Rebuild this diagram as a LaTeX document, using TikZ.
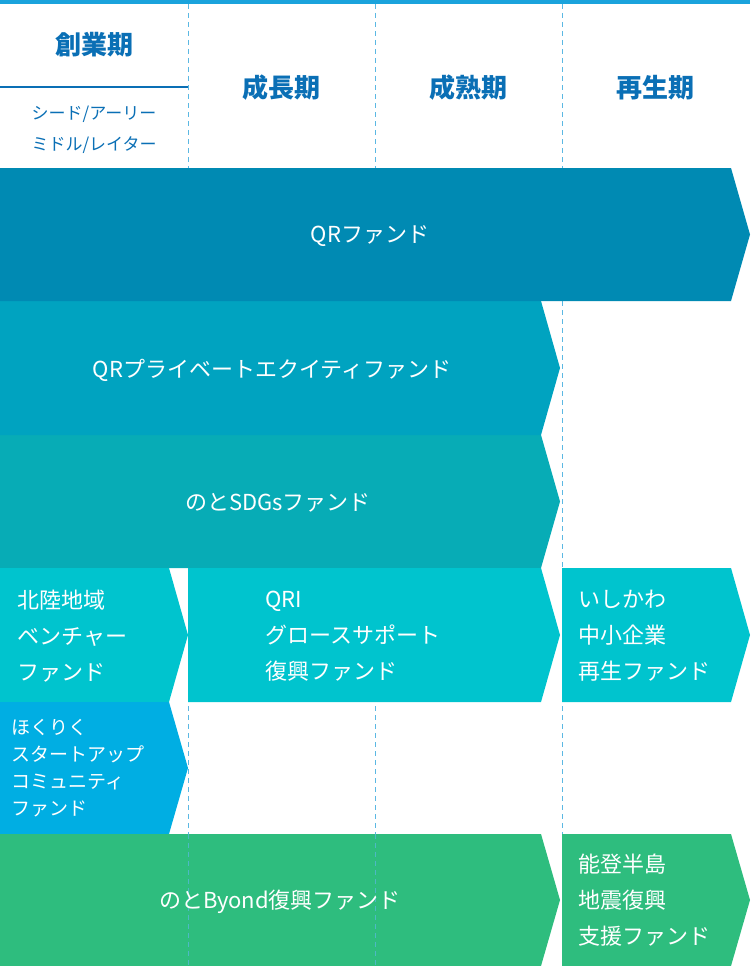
\documentclass[tikz,border=0pt]{standalone}
\usepackage{fontspec}
\setmainfont{Noto Sans CJK JP}
\begin{document}
\begin{tikzpicture}[x=1pt,y=-1pt,
  hd/.style={text=hdblue,font=\bfseries\fontsize{26}{30}\selectfont},
  sub/.style={text=hdblue,font=\fontsize{17}{31}\selectfont,align=center},
  lbl/.style={text=white,font=\fontsize{22}{36}\selectfont,align=left},
  sml/.style={text=white,font=\fontsize{19}{27}\selectfont,align=left},
  grid/.style={dashed,dash pattern=on 5pt off 4pt,draw=gridblue,line width=0.8pt}]
\definecolor{hdblue}{HTML}{0A6FB5}
\definecolor{topblue}{HTML}{1AA3DC}
\definecolor{gridblue}{HTML}{5BB8E3}
\definecolor{cA}{HTML}{008AB3}
\definecolor{cB}{HTML}{00A3C0}
\definecolor{cC}{HTML}{07ACB6}
\definecolor{cD}{HTML}{00C4CE}
\definecolor{cE}{HTML}{00AEE3}
\definecolor{cF}{HTML}{2EBD7E}
\useasboundingbox (0,0) rectangle (750,966);
\fill[topblue] (0,0) rectangle (750,4);
\foreach \x in {188,375,562} \draw[grid] (\x,4) -- (\x,966);
\draw[hdblue,line width=2pt] (0,87) -- (188,87);
\node[hd] (h1) at (94,45) {創業期};
\node[sub] (h1s) at (94,130) {シード/アーリー\\ミドル/レイター};
\node[hd] (h2) at (281,88) {成長期};
\node[hd] (h3) at (468,88) {成熟期};
\node[hd] (h4) at (655,88) {再生期};
% arrows
\newcommand{\arr}[6]{\fill[#6] (#1,#3) -- (#2-19,#3) -- (#2,{(#3+#4)/2}) -- (#2-19,#4) -- (#1,#4) -- cycle;}
\arr{0}{560}{435}{568}{x}{cC}
\arr{0}{560}{301}{435}{x}{cB}
\arr{0}{750}{168}{301}{x}{cA}
\arr{0}{188}{568}{702}{x}{cD}
\arr{188}{560}{568}{702}{x}{cD}
\arr{562}{750}{568}{702}{x}{cD}
\arr{0}{188}{702}{834}{x}{cE}
\arr{0}{560}{834}{966}{x}{cF}
\arr{562}{750}{834}{966}{x}{cF}
\foreach \x in {188,375} \draw[grid,draw=gridblue!70!cF] (\x,834) -- (\x,966);
\node[lbl] (qr) at (370,236) {QRファンド};
\node[lbl] (qrpe) at (272,370) {QRプライベートエクイティファンド};
\node[lbl] (sdgs) at (278,503) {のとSDGsファンド};
\node[lbl,anchor=west] (hok) at (14,636) {北陸地域\\ベンチャー\\ファンド};
\node[lbl,anchor=west] (qri) at (262,636) {QRI\\グロースサポート\\復興ファンド};
\node[lbl,anchor=west] (ish) at (575,636) {いしかわ\\中小企業\\再生ファンド};
\node[sml,anchor=west] (hks) at (8,768) {ほくりく\\スタートアップ\\コミュニティ\\ファンド};
\node[lbl] (byd) at (280,902) {のとByond復興ファンド};
\node[lbl,anchor=west] (not) at (575,900) {能登半島\\地震復興\\支援ファンド};
\end{tikzpicture}
\end{document}
